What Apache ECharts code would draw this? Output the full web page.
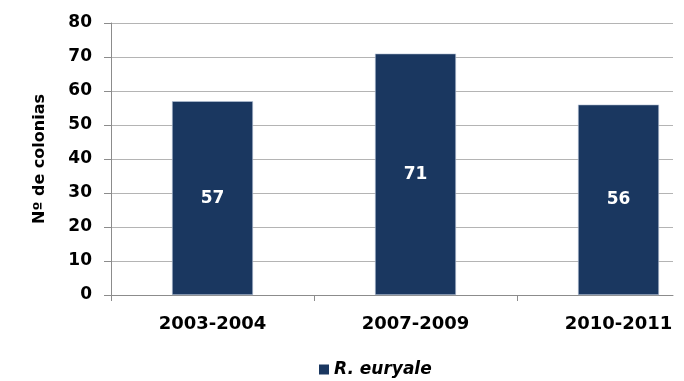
<!DOCTYPE html>
<html>
<head>
<meta charset="utf-8">
<script src="https://cdn.jsdelivr.net/npm/echarts@6/dist/echarts.min.js"></script>
<style>
html,body{margin:0;padding:0;background:#fff;}
#c{width:684px;height:381px;}
</style>
</head>
<body>
<div id="c"></div>
<script>
const categories = ['2003-2004', '2007-2009', '2010-2011'];
const seriesName = 'R. euryale';
const values = [57, 71, 56];
const yTicks = [0, 10, 20, 30, 40, 50, 60, 70, 80];

const FONT = '"DejaVu Sans", Verdana, sans-serif';
const chart = echarts.init(document.getElementById('c'), null, {renderer: 'canvas'});
chart.setOption({
  animation: false,
  backgroundColor: '#ffffff',
  textStyle: {fontFamily: FONT},
  grid: [
    {left: 111, width: 609, top: 23, bottom: 86, containLabel: false, outerBoundsMode: 'none'},
    {left: 111, right: 11, top: 23, bottom: 86, containLabel: false, outerBoundsMode: 'none'}
  ],
  legend: {
    data: [seriesName],
    left: 314, top: 356,
    icon: 'rect', itemWidth: 10, itemHeight: 10, itemGap: 6,
    itemStyle: {borderWidth: 0},
    textStyle: {fontFamily: FONT, fontWeight: 'bold', fontStyle: 'italic', fontSize: 17, color: '#000'}
  },
  xAxis: [
    {
      type: 'category', gridIndex: 0, data: categories,
      axisLine: {show: false},
      axisTick: {show: true, length: 6, lineStyle: {color: '#8c8c8c'}},
      axisLabel: {margin: 20, fontFamily: FONT, fontWeight: 'bold', fontSize: 18, color: '#000'},
      splitLine: {show: false}
    },
    {
      type: 'value', gridIndex: 1, min: 0, max: 1,
      axisLine: {show: true, lineStyle: {color: '#8c8c8c', width: 1}},
      axisTick: {show: false}, axisLabel: {show: false}, splitLine: {show: false}
    }
  ],
  yAxis: [
    {
      type: 'value', gridIndex: 0, min: yTicks[0], max: yTicks[yTicks.length - 1], interval: 10,
      name: 'Nº de colonias', nameLocation: 'middle', nameGap: 63, nameRotate: 90,
      nameTextStyle: {fontFamily: FONT, fontWeight: 'bold', fontSize: 16, color: '#000'},
      axisLine: {show: true, lineStyle: {color: '#8c8c8c', width: 1}},
      axisTick: {show: true, length: 7, lineStyle: {color: '#8c8c8c'}},
      axisLabel: {margin: 19, fontFamily: FONT, fontWeight: 'bold', fontSize: 17, color: '#000'},
      splitLine: {show: false}
    },
    {
      type: 'value', gridIndex: 1, min: yTicks[0], max: yTicks[yTicks.length - 1], interval: 10,
      axisLine: {show: false}, axisTick: {show: false}, axisLabel: {show: false},
      splitLine: {show: true, lineStyle: {color: '#b4b4b4', width: 1}}
    }
  ],
  series: [{
    name: seriesName, type: 'bar', xAxisIndex: 0, yAxisIndex: 0,
    data: values, barWidth: 81,
    itemStyle: {color: '#1a3760', borderColor: '#b9c6d8', borderWidth: 0.6},
    label: {show: true, position: 'inside', color: '#ffffff', fontFamily: FONT, fontWeight: 'bold', fontSize: 17},
    z: 3
  }]
});
</script>
</body>
</html>
